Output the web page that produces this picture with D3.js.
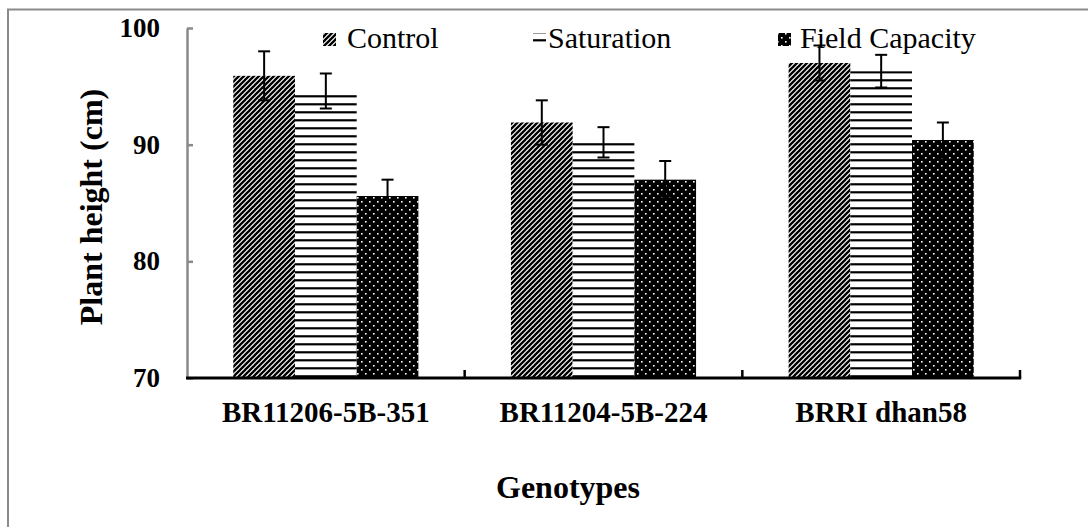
<!DOCTYPE html>
<html>
<head>
<meta charset="utf-8">
<script src="https://cdn.jsdelivr.net/npm/d3@7"></script>
<style>
  html, body { margin: 0; padding: 0; background: #fff; }
  svg { display: block; }
  svg text { font-family: "Liberation Serif", "DejaVu Serif", "Times New Roman", Times, serif; fill: #000; }
</style>
</head>
<body>
<svg id="chart" width="1088" height="527"></svg>
<script>
// Plant height of three genotypes under three water regimes
const genotypes = ["BR11206-5B-351", "BR11204-5B-224", "BRRI dhan58"];
const treatments = ["Control", "Saturation", "Field Capacity"];
const controlMean = [95.9, 91.9, 97.0];
const controlErr = [2.1, 1.9, 1.5];
const saturationMean = [94.6, 90.2, 96.3];
const saturationErr = [1.5, 1.3, 1.4];
const fieldCapMean = [85.6, 87.0, 90.4];
const fieldCapErr = [1.4, 1.6, 1.5];
const yTicks = [70, 80, 90, 100];

const SERIF = "'Liberation Serif', 'DejaVu Serif', 'Times New Roman', Times, serif";

const means = [controlMean, saturationMean, fieldCapMean];
const errs = [controlErr, saturationErr, fieldCapErr];
const rows = [];
genotypes.forEach((g, gi) => {
  treatments.forEach((t, ti) => {
    rows.push({ genotype: g, treatment: t, ti, value: means[ti][gi], err: errs[ti][gi] });
  });
});

const svg = d3.select("#chart");
const W = 1088, H = 527;
const plot = { left: 187, right: 1020, top: 28, bottom: 378 };

// Fill patterns: diagonal hatch, horizontal lines, black with white dots
const defs = svg.append("defs");
const P = 5;
const diag = defs.append("pattern").attr("id", "pat-diag")
  .attr("patternUnits", "userSpaceOnUse").attr("width", P).attr("height", P);
diag.append("rect").attr("width", P).attr("height", P).attr("fill", "#fff");
diag.append("path").attr("d", `M-1,${P + 1} L${P + 1},-1 M-1,1 L1,-1 M${P - 1},${P + 1} L${P + 1},${P - 1}`)
  .attr("stroke", "#000").attr("stroke-width", 2.3);

const horz = defs.append("pattern").attr("id", "pat-horz")
  .attr("patternUnits", "userSpaceOnUse").attr("width", 8).attr("height", 8);
horz.append("rect").attr("width", 8).attr("height", 8).attr("fill", "#fff");
horz.append("rect").attr("x", 0).attr("y", 7.2).attr("width", 8).attr("height", 2.2).attr("fill", "#000");
horz.append("rect").attr("x", 0).attr("y", -0.8).attr("width", 8).attr("height", 2.2).attr("fill", "#000");

const dots = defs.append("pattern").attr("id", "pat-dots")
  .attr("patternUnits", "userSpaceOnUse").attr("width", 8).attr("height", 8);
dots.append("rect").attr("width", 8).attr("height", 8).attr("fill", "#000");
dots.append("rect").attr("x", 1).attr("y", 1).attr("width", 1.6).attr("height", 1.6).attr("fill", "#fff");
dots.append("rect").attr("x", 5).attr("y", 5).attr("width", 1.6).attr("height", 1.6).attr("fill", "#fff");

const fills = d3.scaleOrdinal().domain(treatments)
  .range(["url(#pat-diag)", "url(#pat-horz)", "url(#pat-dots)"]);

// Frame (top and left edges of the chart area)
svg.append("path")
  .attr("d", `M8,${H} L8,9.5 L${W},9.5`)
  .attr("fill", "none").attr("stroke", "#8a8a8a").attr("stroke-width", 2);

// Scales
const y = d3.scaleLinear().domain([70, 100]).range([plot.bottom, plot.top]);
const x0 = d3.scaleBand().domain(genotypes).range([plot.left, plot.right]).padding(0);
const x1 = d3.scaleBand().domain(treatments).range([0, x0.bandwidth()])
  .paddingInner(0).paddingOuter(0.75);

// Bars
const bars = svg.append("g");
bars.selectAll("rect").data(rows).join("rect")
  .attr("x", d => x0(d.genotype) + x1(d.treatment))
  .attr("y", d => y(d.value))
  .attr("width", x1.bandwidth())
  .attr("height", d => y(70) - y(d.value))
  .attr("fill", d => fills(d.treatment));

// Error bars
const eb = svg.append("g").attr("stroke", "#000").attr("stroke-width", 2).attr("fill", "none");
const capW = 6;
rows.forEach(d => {
  const cx = x0(d.genotype) + x1(d.treatment) + x1.bandwidth() / 2;
  const yt = y(d.value + d.err), yb = y(d.value - d.err);
  eb.append("line").attr("x1", cx).attr("x2", cx).attr("y1", yt).attr("y2", yb);
  eb.append("line").attr("x1", cx - capW).attr("x2", cx + capW).attr("y1", yt).attr("y2", yt);
  eb.append("line").attr("x1", cx - capW).attr("x2", cx + capW).attr("y1", yb).attr("y2", yb);
});

// Y axis
const yAxis = d3.axisLeft(y).tickValues(yTicks).tickSizeInner(-6).tickSizeOuter(0).tickPadding(27);
const yg = svg.append("g").attr("transform", `translate(${plot.left},0)`).call(yAxis)
  .attr("font-family", SERIF);
yg.select(".domain").attr("stroke", "#8a8a8a").attr("stroke-width", 2.5);
yg.selectAll(".tick line").attr("stroke", "#8a8a8a").attr("stroke-width", 2.5);
yg.selectAll(".tick text")
  .style("font-family", SERIF)
  .attr("font-size", 27).attr("font-weight", "bold").attr("fill", "#000");

// X axis: category labels under each group, ticks at group boundaries
const xAxis = d3.axisBottom(x0).tickSize(0).tickPadding(0);
const xg = svg.append("g").attr("transform", `translate(0,${plot.bottom})`).call(xAxis)
  .attr("font-family", SERIF);
xg.select(".domain").remove();
xg.selectAll(".tick text")
  .attr("dy", null).attr("y", 44)
  .style("font-family", SERIF)
  .attr("font-size", 29).attr("font-weight", "bold").attr("fill", "#000");

const bounds = genotypes.map(g => x0(g)).concat([x0(genotypes[genotypes.length - 1]) + x0.bandwidth()]);
svg.append("g").selectAll("line").data(bounds.slice(1)).join("line")
  .attr("x1", d => d).attr("x2", d => d)
  .attr("y1", plot.bottom).attr("y2", plot.bottom - 8)
  .attr("stroke", "#000").attr("stroke-width", 2.5);
svg.append("line")
  .attr("x1", plot.left - 1).attr("x2", plot.right + 1.2)
  .attr("y1", plot.bottom).attr("y2", plot.bottom)
  .attr("stroke", "#000").attr("stroke-width", 3);

// Axis titles
svg.append("text")
  .attr("transform", `translate(102,207) rotate(-90)`)
  .attr("text-anchor", "middle")
  .style("font-family", SERIF)
  .attr("font-size", 32).attr("font-weight", "bold")
  .text("Plant height (cm)");
svg.append("text")
  .attr("x", 568).attr("y", 498)
  .attr("text-anchor", "middle")
  .style("font-family", SERIF)
  .attr("font-size", 32).attr("font-weight", "bold")
  .text("Genotypes");

// Legend
const legendItems = [
  { name: treatments[0], sx: 323, tx: 347 },
  { name: treatments[1], sx: 533, tx: 548 },
  { name: treatments[2], sx: 778, tx: 800 }
];
const lg = svg.append("g");
legendItems.forEach(it => {
  lg.append("rect").attr("x", it.sx).attr("y", 33).attr("width", 13).attr("height", 13)
    .attr("fill", fills(it.name));
  lg.append("text").attr("x", it.tx).attr("y", 48)
    .style("font-family", SERIF)
    .attr("font-size", 30).text(it.name);
});
</script>
</body>
</html>
